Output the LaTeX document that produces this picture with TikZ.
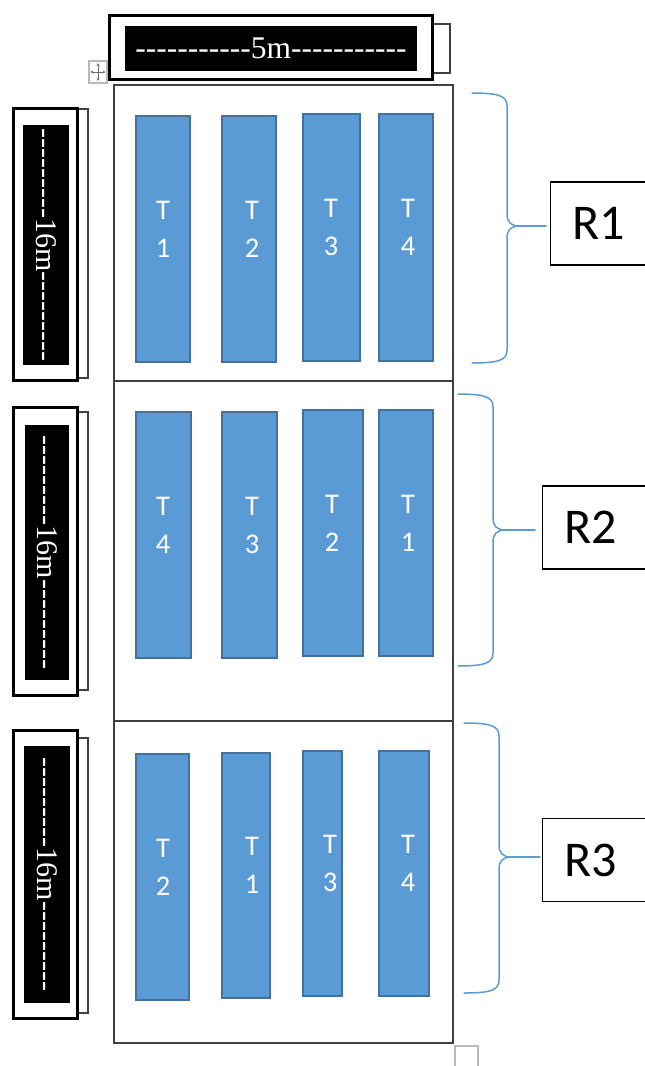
\documentclass[tikz,border=0pt]{standalone}
\usepackage{fontspec}
\newfontfamily\calibri{Carlito}
\newfontfamily\tnr{Liberation Serif}
\usetikzlibrary{arrows.meta}
\definecolor{tankfill}{RGB}{91,155,213}
\definecolor{tankline}{RGB}{65,113,156}
\definecolor{bracecol}{RGB}{91,155,213}
\definecolor{framecol}{RGB}{64,64,64}
\definecolor{handlecol}{RGB}{185,185,185}
\definecolor{handlearrow}{RGB}{110,110,110}
\newcommand\hy{\mbox{-}}
\newcommand\hys[1]{\foreach \k in {1,...,#1}{\hy}}
% name, x1, y1, x2, y2, number, text x
\newcommand\tankat[7]{%
  \node[tank, minimum width={#4-#2-2.4}, minimum height={#5-#3-2.4}] (#1) at ({(#2+#4)/2},{(#3+#5)/2}) {};
  \node[tanktxt] (#1t) at ([yshift=10pt]#1.center -| #7,0) {T\\#6};}
\begin{document}
\begin{tikzpicture}[x=1pt,y=-1pt,
  tank/.style={draw=tankline, fill=tankfill, line width=2.4pt, inner sep=0pt},
  tanktxt/.style={text=white, font=\calibri\fontsize{28.5}{38}\selectfont, align=center, inner sep=0pt},
  blk/.style={fill=black, text=white, inner sep=0pt, font=\tnr\fontsize{31.5}{36}\selectfont},
  outerbox/.style={draw=black, fill=white, line width=2.5pt},
  shadowbox/.style={draw=framecol, fill=white, line width=1.2pt},
  frame/.style={draw=framecol, line width=1.5pt},
  brace/.style={draw=bracecol, line width=1.5pt, line cap=round},
  rbox/.style={draw=black, line width=1.3pt, fill=white, anchor=west,
    font=\calibri\fontsize{50}{60}\selectfont, text width=70pt, align=left,
    inner xsep=22pt, inner ysep=0pt, minimum height=83pt},
  handle/.style={draw=handlecol, line width=1.2pt},
  handlearr/.style={draw=handlearrow, line width=0.8pt,
    {Stealth[length=3pt,width=3.2pt]}-{Stealth[length=3pt,width=3.2pt]}},
]
\path[use as bounding box] (0,0) rectangle (645,1066);
\clip (0,0) rectangle (645,1066);

% table move handle
\draw[handle, fill=white] (89,61) rectangle (107,83);
\draw[handlearr] (90.5,72) -- (105.5,72);
\draw[handlearr] (98,63) -- (98,81);

% top width label
\draw[shadowbox] (420,24) rectangle (450,73);
\draw[outerbox] (109.3,15.3) rectangle (432.7,79.7);
\node[blk, minimum width=292pt, minimum height=45pt] (toplbl) at (271,48.5) {\hys{11}5m\hys{11}};

% left length labels
\draw[shadowbox] (70,109) rectangle (88,378);
\draw[outerbox] (13.3,108.3) rectangle (77.7,380.7);
\node[blk, rotate=-90, font=\tnr\fontsize{30}{36}\selectfont, minimum width=240pt, minimum height=46pt] (len1) at (46,245) {\hys{9}16m\hys{9}};

\draw[shadowbox] (70,412) rectangle (88,690);
\draw[outerbox] (13.3,407.3) rectangle (77.7,695.7);
\node[blk, rotate=-90, font=\tnr\fontsize{30}{36}\selectfont, minimum width=255pt, minimum height=44pt] (len2) at (47,552.5) {\hys{9}16m\hys{9}};

\draw[shadowbox] (70,738) rectangle (88,1013);
\draw[outerbox] (13.3,730.3) rectangle (77.7,1018.7);
\node[blk, rotate=-90, font=\tnr\fontsize{30}{36}\selectfont, minimum width=257pt, minimum height=46pt] (len3) at (47,874.5) {\hys{9}16m\hys{9}};

% main frame (table)
\draw[frame] (114,85) rectangle (453,1043);
\draw[frame] (114,381) -- (453,381);
\draw[frame] (114,721) -- (453,721);

% table resize handle
\draw[handle] (455,1046) rectangle (478,1085);

% tanks row 1
\tankat{ra}{135}{115}{191}{363}{1}{163}
\tankat{rb}{221}{115}{277}{363}{2}{252}
\tankat{rc}{302}{113}{361}{362}{3}{331}
\tankat{rd}{378}{113}{434}{362}{4}{408}
% tanks row 2
\tankat{sa}{135}{411}{192}{659}{4}{163}
\tankat{sb}{221}{411}{278}{659}{3}{252}
\tankat{sc}{302}{409}{364}{657}{2}{332}
\tankat{sd}{378}{409}{434}{657}{1}{408}
% tanks row 3
\tankat{ta}{135}{753}{190}{1001}{2}{163}
\tankat{tb}{221}{752}{271}{999}{1}{252}
\tankat{tc}{302}{750}{343}{997}{3}{330}
\tankat{td}{378}{750}{430}{997}{4}{408}

% row labels
\node[rbox] (r1) at (550,223.5) {R1};
\node[rbox] (r2) at (542,527.5) {R2};
\node[rbox] (r3) at (542,860) {R3};

% braces
\draw[brace] (472,93) .. controls (499,93) and (507,96) .. (507,106) -- (507,214)
  .. controls (507,222) and (511,226) .. (519,226) coordinate (b1tip)
  .. controls (511,226) and (507,230) .. (507,238) -- (507,350)
  .. controls (507,360) and (499,363) .. (472,363);
\draw[brace, shorten >=4pt] (b1tip) -- (b1tip -| r1.west);

\draw[brace] (458,394) .. controls (485,394) and (493,397) .. (493,407) -- (493,518)
  .. controls (493,526) and (497,530) .. (505,530) coordinate (b2tip)
  .. controls (497,530) and (493,534) .. (493,542) -- (493,653)
  .. controls (493,663) and (485,666) .. (458,666);
\draw[brace, shorten >=7pt] (b2tip) -- (b2tip -| r2.west);

\draw[brace] (464,723) .. controls (491,723) and (499,726) .. (499,736) -- (499,845)
  .. controls (499,853) and (503,857) .. (511,857) coordinate (b3tip)
  .. controls (503,857) and (499,861) .. (499,869) -- (499,980)
  .. controls (499,990) and (491,993) .. (464,993);
\draw[brace, shorten >=2pt] (b3tip) -- (b3tip -| r3.west);
\end{tikzpicture}
\end{document}
